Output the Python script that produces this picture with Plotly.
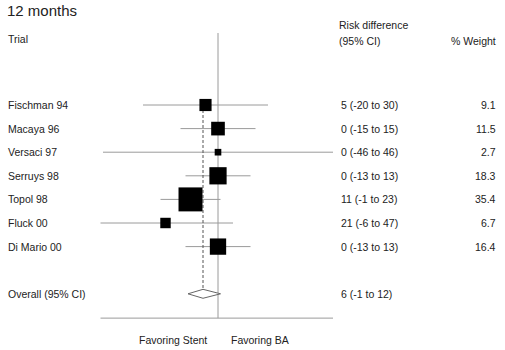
import plotly.graph_objects as go
import math

trials = ["Fischman 94", "Macaya 96", "Versaci 97", "Serruys 98", "Topol 98", "Fluck 00", "Di Mario 00"]
rd = [5, 0, 0, 0, 11, 21, 0]
lo = [-20, -15, -46, -13, -1, -6, -13]
hi = [30, 15, 46, 13, 23, 47, 13]
weights = [9.1, 11.5, 2.7, 18.3, 35.4, 6.7, 16.4]
overall_label = "Overall (95% CI)"
overall = 6
overall_lo = -1
overall_hi = 12
ci_labels = ["5 (-20 to 30)", "0 (-15 to 15)", "0 (-46 to 46)", "0 (-13 to 13)",
             "11 (-1 to 23)", "21 (-6 to 47)", "0 (-13 to 13)"]
overall_ci_label = "6 (-1 to 12)"
weight_labels = ["9.1", "11.5", "2.7", "18.3", "35.4", "6.7", "16.4"]

rows = list(range(len(trials)))
overall_row = 8

W, H = 505, 350
FONT = "Liberation Sans, Arial, sans-serif"
TXT = "#222222"

fig = go.Figure()

# CI lines
xs, ys = [], []
for r, a, b in zip(rows, lo, hi):
    xs += [a, b, None]
    ys += [r, r, None]
fig.add_trace(go.Scatter(x=xs, y=ys, mode="lines", line=dict(color="#9a9a9a", width=1),
                         hoverinfo="skip", showlegend=False))

# zero line
fig.add_trace(go.Scatter(x=[0, 0], y=[-3.05, 9.03], mode="lines",
                         line=dict(color="#9a9a9a", width=1), hoverinfo="skip", showlegend=False))
# overall dashed line
fig.add_trace(go.Scatter(x=[overall, overall], y=[0, overall_row], mode="lines",
                         line=dict(color="#555555", width=1, dash="3px,2px"),
                         hoverinfo="skip", showlegend=False))
# bottom axis line
fig.add_trace(go.Scatter(x=[min(lo), max(hi)], y=[9.03, 9.03], mode="lines",
                         line=dict(color="#9a9a9a", width=1), hoverinfo="skip", showlegend=False))

# squares
fig.add_trace(go.Scatter(x=rd, y=rows, mode="markers", opacity=1,
                         marker=dict(symbol="square", color="#000000", opacity=1,
                                     size=[4.03 * math.sqrt(w) for w in weights],
                                     line=dict(width=0)),
                         hoverinfo="skip", showlegend=False))

# diamond
dh = 0.19
fig.add_trace(go.Scatter(x=[overall_lo, overall, overall_hi, overall, overall_lo],
                         y=[overall_row, overall_row - dh, overall_row, overall_row + dh, overall_row],
                         mode="lines", fill="toself", fillcolor="white",
                         line=dict(color="#666666", width=1), hoverinfo="skip", showlegend=False))

def px(x):
    return x / W

def ann(text, x, y, xanchor="left", yref="y", size=10.5, yanchor="middle"):
    fig.add_annotation(text=text, x=px(x), xref="paper", y=y, yref=yref,
                       xanchor=xanchor, yanchor=yanchor, showarrow=False,
                       font=dict(family=FONT, size=size, color=TXT))

for r, t, c, w in zip(rows, trials, ci_labels, weight_labels):
    ann(t, 6, r)
    ann(c, 339, r)
    ann(w, 498, r, xanchor="right")

ann(overall_label, 6, overall_row)
ann(overall_ci_label, 339, overall_row)

def ypaper(py):
    return 1 - py / H

ann("12 months", 5, ypaper(0), size=15, yref="paper", yanchor="top")
ann("Trial", 6, ypaper(39), yref="paper")
ann("Risk difference", 337, ypaper(25), yref="paper")
ann("(95% CI)", 337, ypaper(41), yref="paper")
ann("% Weight", 498, ypaper(41), xanchor="right", yref="paper")
ann("Favoring Stent", 209, ypaper(340), xanchor="right", yref="paper")
ann("Favoring BA", 229, ypaper(340), yref="paper")

# pixel mapping: x_px = 218 - 2.5*v ; y_px = 105 + 23.6*r
fig.update_xaxes(range=[218 / 2.5, (218 - W) / 2.5], visible=False, fixedrange=True)
fig.update_yaxes(range=[(H - 105) / 23.6, (0 - 105) / 23.6], visible=False, fixedrange=True)
fig.update_layout(width=W, height=H, margin=dict(l=0, r=0, t=0, b=0),
                  plot_bgcolor="white", paper_bgcolor="white")

fig.write_html("out.html")
